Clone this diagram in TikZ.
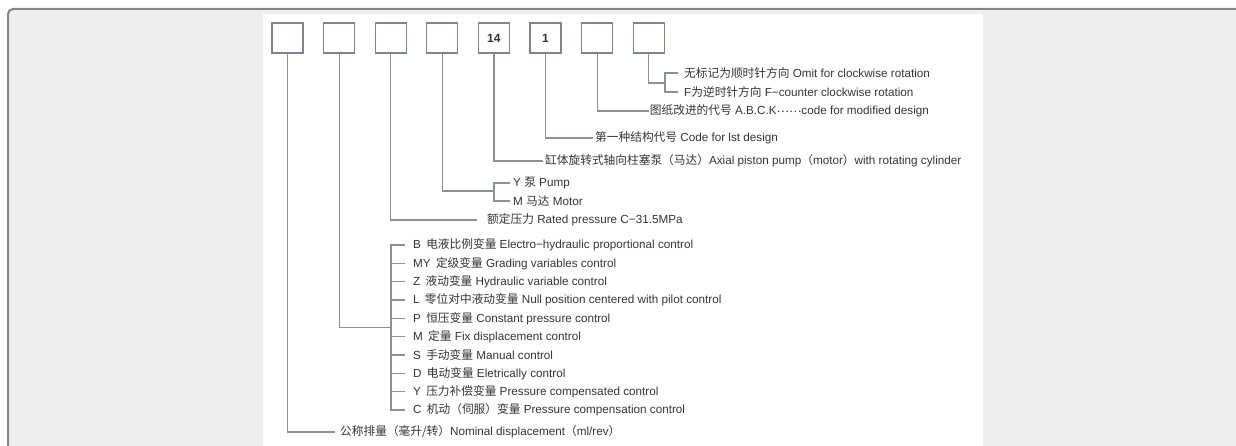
\documentclass[tikz,border=0pt]{standalone}
\usepackage{fontspec}
\setmainfont{Liberation Sans}
\newfontfamily\cjk{Noto Sans CJK SC}
\newcommand{\zh}[1]{{\cjk #1}}
\definecolor{pagebg}{HTML}{EEEEEE}
\definecolor{framegray}{HTML}{858585}
\definecolor{boxgray}{HTML}{7D8393}
\definecolor{linegray}{HTML}{8C9099}
\definecolor{txtgray}{HTML}{353535}
\tikzset{
  codebox/.style={draw=boxgray,line width=1.3pt,fill=white,minimum width=31pt,minimum height=30pt,
    inner sep=0pt,font=\fontsize{12}{14}\selectfont\bfseries,text=txtgray},
  lbl/.style={anchor=west,inner xsep=2pt,inner ysep=0pt,font=\fontsize{11.7}{13}\selectfont,text=txtgray},
  elbow/.style={to path={|- (\tikztotarget)}}
}
\begin{document}
\begin{tikzpicture}[x=1pt,y=-1pt]
  \useasboundingbox (0,0) rectangle (1236,446);
  % page frame and white sheet
  \draw[framegray,line width=2pt,fill=pagebg,rounded corners=5pt] (8,9) rectangle (1260,470);
  \fill[white] (263,14) rectangle (983,446);
  % code boxes
  \begin{scope}[every node/.style={codebox}]
  \node (b1) at (287.5,38) {};
  \node (b2) at (339.1,38) {};
  \node (b3) at (390.7,38) {};
  \node (b4) at (442.3,38) {};
  \node (b5) at (493.9,38) {14};
  \node (b6) at (545.5,38) {1};
  \node (b7) at (597.1,38) {};
  \node (b8) at (648.7,38) {};
  \end{scope}
  % bracket corners
  \coordinate (k8) at (665,83);
  \coordinate (k4) at (493.9,191);
  \coordinate (k2) at (391,327.5);
  % labels
  \begin{scope}[every node/.style={lbl}]
  \node[inner xsep=6pt] (t8a) at (678,73) {\zh{无标记为顺时针方向} Omit for clockwise rotation};
  \node[inner xsep=6pt] (t8b) at (678,92) {F\zh{为逆时针方向} F−counter clockwise rotation};
  \node[inner xsep=1pt] (t7) at (648.7,111) {\zh{图纸改进的代号} A.B.C.K\raisebox{0.35ex}{\zh{……}}code for modified design};
  \node (t6) at (593,138) {\zh{第一种结构代号} Code for lst design};
  \node (t5) at (543,161) {\zh{缸体旋转式轴向柱塞泵（马达）}Axial piston pump\zh{（}motor\zh{）}with rotating cylinder};
  \node[inner xsep=3pt] (t4a) at (510,183) {Y \zh{泵} Pump};
  \node[inner xsep=3pt] (t4b) at (510,201) {M \zh{马达} Motor};
  \node (t3) at (485,220) {\zh{额定压力} Rated pressure C−31.5MPa};
  \node (t1) at (338,432) {\zh{公称排量（毫升/转）}Nominal displacement\zh{（}ml/rev\zh{）}};
  \end{scope}
  \begin{scope}[every node/.style={lbl,inner xsep=8pt}]
  \node (c1) at (405,245) {B\hspace{0.45em}\zh{电液比例变量} Electro−hydraulic proportional control};
  \node (c2) at (405,263.3) {MY\hspace{0.45em}\zh{定级变量} Grading variables control};
  \node (c3) at (405,281.7) {Z\hspace{0.45em}\zh{液动变量} Hydraulic variable control};
  \node (c4) at (405,300) {L\hspace{0.45em}\zh{零位对中液动变量} Null position centered with pilot control};
  \node (c5) at (405,318.3) {P\hspace{0.45em}\zh{恒压变量} Constant pressure control};
  \node (c6) at (405,336.7) {M\hspace{0.45em}\zh{定量} Fix displacement control};
  \node (c7) at (405,355) {S\hspace{0.45em}\zh{手动变量} Manual control};
  \node (c8) at (405,373.3) {D\hspace{0.45em}\zh{电动变量} Eletrically control};
  \node (c9) at (405,391.7) {Y\hspace{0.45em}\zh{压力补偿变量} Pressure compensated control};
  \node (c10) at (405,410) {C\hspace{0.45em}\zh{机动（伺服）变量} Pressure compensation control};
  \end{scope}
  % leader lines
  \begin{scope}[every edge/.style={draw=linegray,line width=1.2pt}]
  \path (b8.south) edge[elbow] (k8);
  \path (k8) edge[elbow] (t8a.west);
  \path (k8) edge[elbow] (t8b.west);
  \path (b7.south) edge[elbow] (t7.west);
  \path (b6.south) edge[elbow] (t6.west);
  \path (b5.south) edge[elbow] (t5.west);
  \path (b4.south) edge[elbow] (k4);
  \path (k4) edge[elbow] (t4a.west);
  \path (k4) edge[elbow] (t4b.west);
  \path (b3.south) edge[elbow,shorten >=8pt] (t3.west);
  \path (b2.south) edge[elbow] (k2);
  \path (k2) edge[elbow] (c1.west);
  \path (k2) edge[elbow] (c2.west);
  \path (k2) edge[elbow] (c3.west);
  \path (k2) edge[elbow] (c4.west);
  \path (k2) edge[elbow] (c5.west);
  \path (k2) edge[elbow] (c6.west);
  \path (k2) edge[elbow] (c7.west);
  \path (k2) edge[elbow] (c8.west);
  \path (k2) edge[elbow] (c9.west);
  \path (k2) edge[elbow] (c10.west);
  \path (b1.south) edge[elbow,shorten >=3pt] (t1.west);
  \end{scope}
\end{tikzpicture}
\end{document}
